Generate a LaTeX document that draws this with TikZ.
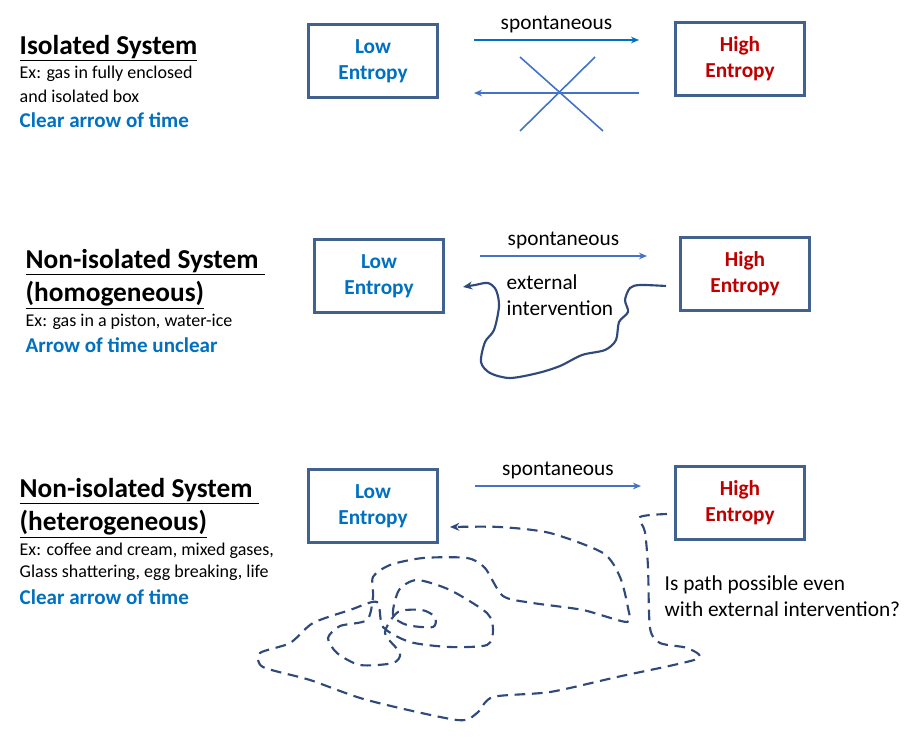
\documentclass[tikz,border=0pt]{standalone}
\usepackage{fontspec}
\setmainfont{Carlito}
\usetikzlibrary{arrows.meta}
\definecolor{boxline}{HTML}{41618F}
\definecolor{txtblue}{HTML}{0070C0}
\definecolor{txtred}{HTML}{C00000}
\definecolor{arrblue}{HTML}{4472C4}
\definecolor{pathnavy}{HTML}{2F4A7A}
\tikzset{
  state/.style={draw=boxline, line width=1.9pt, minimum width=96pt, minimum height=55pt, text width=90pt, align=center, font=\fontsize{16}{19.5}\selectfont\bfseries},
  title/.style={anchor=west, font=\fontsize{20.5}{23}\selectfont\bfseries},
  note/.style={anchor=west, font=\fontsize{13.5}{16}\selectfont},
  verdict/.style={anchor=west, text=txtblue, font=\fontsize{15.8}{18}\selectfont\bfseries},
  label/.style={font=\fontsize{16}{19}\selectfont},
  flow/.style={draw=arrblue, line width=1.2pt, -{Stealth[length=6pt,width=5pt]}},
  wander/.style={draw=pathnavy, line width=1.6pt, -{Stealth[length=7pt,width=6pt]}}
}
\begin{document}
\begin{tikzpicture}[x=0.75pt, y=-0.75pt]
	\useasboundingbox (0,0) rectangle (912,749);
	% isolated system
	\node[title] (isoTitle) at (15,48) {\underline{Isolated System}};
	\node[note] (isoExA) at (15,74) {Ex: gas in fully enclosed};
	\node[note] (isoExB) at (15,96) {and isolated box};
	\node[verdict] (isoVerdict) at (15,120) {Clear arrow of time};
	\node[state, text=txtblue] (isoLow) at (373,61) {Low\\Entropy};
	\node[state, text=txtred] (isoHigh) at (740,59) {High\\Entropy};
	\coordinate (isoA) at (474,40);
	\coordinate (isoB) at (639,40);
	\coordinate (isoC) at (639,93);
	\coordinate (isoD) at (474,93);
	\draw[flow, draw=txtblue, line width=1.8pt] (isoA) -- node[label, above=1pt, text=black] {spontaneous} (isoB);
	\draw[flow] (isoC) -- (isoD);
	\draw[arrblue, line width=1.2pt] (520,57) -- (603,131);
	\draw[arrblue, line width=1.2pt] (520,131) -- (595,57);
	% non-isolated, homogeneous
	\node[title] (homTitle) at (21,262) {\underline{Non-isolated System\ }};
	\node[title] (homSub) at (21,295) {\underline{(homogeneous)}};
	\node[note] (homEx) at (21,322) {Ex: gas in a piston, water-ice};
	\node[verdict] (homVerdict) at (21,345) {Arrow of time unclear};
	\node[state, text=txtblue] (homLow) at (379,276) {Low\\Entropy};
	\node[state, text=txtred] (homHigh) at (745,274) {High\\Entropy};
	\coordinate (homA) at (480,256);
	\coordinate (homB) at (647,256);
	\draw[flow] (homA) -- node[label, above=1pt] {spontaneous} (homB);
	\node[label, anchor=west, align=left] (homExt) at (502,295) {external\\intervention};
	\draw[wander] plot[smooth, tension=0.5] coordinates {(666,286) (640,285) (630,288) (625,300) (628,312) (619,322) (616,340) (605,350) (582,355) (560,366) (538,373) (510,378) (490,373) (481,362) (485,342) (494,330) (499,306) (496,290) (488,283) (475,285) (463,287)};
	% non-isolated, heterogeneous
	\node[title] (hetTitle) at (15,491) {\underline{Non-isolated System\ }};
	\node[title] (hetSub) at (15,524) {\underline{(heterogeneous)}};
	\node[note] (hetExA) at (15,551) {Ex: coffee and cream, mixed gases,};
	\node[note] (hetExB) at (15,573) {Glass shattering, egg breaking, life};
	\node[verdict] (hetVerdict) at (15,597) {Clear arrow of time};
	\node[state, text=txtblue] (hetLow) at (373,506) {Low\\Entropy};
	\node[state, text=txtred] (hetHigh) at (740,503) {High\\Entropy};
	\coordinate (hetA) at (475,486);
	\coordinate (hetB) at (641,486);
	\draw[flow] (hetA) -- node[label, above=1pt] {spontaneous} (hetB);
	\node[label, anchor=west, align=left] (hetQuestion) at (660,596) {Is path possible even\\with external intervention?};
	\draw[wander, dash pattern=on 8pt off 5pt] plot[smooth, tension=0.45] coordinates {(667,514) (640,517) (645,532) (648,567) (650,628) (660,643) (687,648) (697,659) (617,677) (550,692) (493,697) (477,713) (457,720) (367,700) (310,680) (263,667) (260,653) (290,643) (313,623) (350,610) (377,602) (383,627) (410,642) (450,647) (487,645) (493,630) (487,613) (450,590) (417,580) (399,590) (393,615) (407,625) (433,627) (435,617) (422,610) (398,612) (385,633) (400,653) (393,663) (360,665) (337,653) (328,638) (340,626) (367,620) (373,597) (373,577) (390,565) (423,558) (467,558) (485,568) (503,596) (533,603) (583,610) (627,622) (628,608) (620,577) (603,553) (550,533) (500,527) (450,527)};
\end{tikzpicture}
\end{document}
